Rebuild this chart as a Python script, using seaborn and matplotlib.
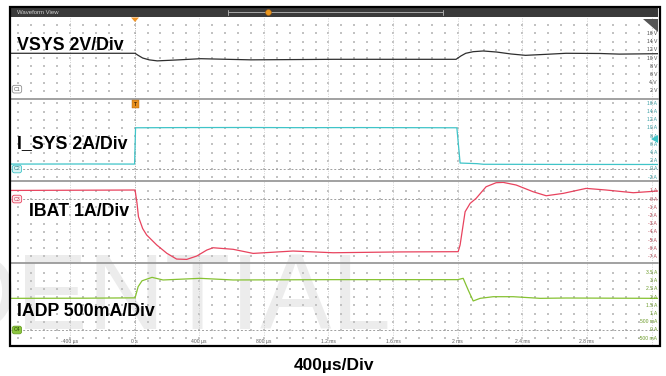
import numpy as np
import pandas as pd
import matplotlib
matplotlib.use("Agg")
import matplotlib.pyplot as plt
import matplotlib.transforms as mtransforms
from matplotlib.patches import Rectangle, Polygon
from matplotlib.lines import Line2D
import seaborn as sns

sns.set_theme(style="white")
plt.rcParams["font.family"] = ["Liberation Sans", "DejaVu Sans"]

# ---------------- captured waveforms (time in ms) ----------------
vsys_t = [-0.765, 0.003, 0.02, 0.05, 0.09, 0.14, 0.25, 0.41, 0.55, 0.72, 1.0, 1.23, 1.6, 1.99,
          2.02, 2.05, 2.096, 2.158, 2.24, 2.33, 2.42, 2.55, 2.67, 2.88, 3.0, 3.24]
vsys_v = [11.15, 11.15, 10.7, 10.0, 9.55, 9.3, 9.5, 9.83, 9.7, 9.55, 9.62, 9.68, 9.68, 9.68,
          10.5, 11.15, 11.54, 11.71, 11.46, 10.98, 10.65, 10.9, 11.15, 11.1, 10.95, 11.05]

isys_t = [-0.765, -0.3, 0.0, 0.006, 0.3, 0.7, 1.0, 1.4, 1.8, 1.995, 2.015, 2.12, 2.16, 2.6, 3.24]
isys_a = [1.2, 1.22, 1.2, 10.05, 10.1, 10.12, 10.08, 10.1, 10.07, 10.05, 1.45, 1.3, 1.15, 1.12, 1.1]

ibat_t = [-0.765, -0.3, 0.003, 0.015, 0.024, 0.05, 0.075, 0.137, 0.2, 0.26, 0.323, 0.385,
          0.447, 0.486, 0.61, 0.734, 0.981, 1.229, 1.644, 2.003, 2.015, 2.046, 2.077, 2.114,
          2.176, 2.238, 2.282, 2.362, 2.467, 2.548, 2.653, 2.795, 2.919, 3.087, 3.24]
ibat_a = [1.05, 1.08, 1.1, -0.5, -2.16, -3.6, -4.39, -5.6, -6.62, -7.32, -7.36, -6.95,
          -6.22, -5.94, -6.13, -6.63, -6.34, -6.55, -6.45, -6.42, -5.6, -1.55, -0.53, 0.08,
          1.5, 1.99, 2.03, 1.71, 0.89, 0.40, 0.69, 1.30, 1.10, 0.77, 0.98]

iadp_t = [-0.765, -0.3, 0.003, 0.022, 0.046, 0.108, 0.176, 0.406, 0.61, 1.229, 1.644,
          2.0, 2.034, 2.065, 2.096, 2.139, 2.22, 2.344, 2.511, 2.672, 3.24]
iadp_a = [1.93, 1.94, 1.96, 2.64, 3.0, 3.21, 3.05, 3.15, 3.05, 3.07, 3.07,
          3.07, 3.15, 2.44, 1.77, 1.93, 2.03, 2.03, 1.93, 1.95, 1.93]

# right-edge vertical scale readouts
vsys_scale = [16, 14, 12, 10, 8, 6, 4, 2]
vsys_scale_labels = ["16 V", "14 V", "12 V", "10 V", "8 V", "6 V", "4 V", "2 V"]
isys_scale = [16, 14, 12, 10, 8, 6, 4, 2, 0, -2]
isys_scale_labels = ["16 A", "14 A", "12 A", "10 A", "8 A", "6 A", "4 A", "2 A", "0 A", "-2 A"]
ibat_scale = [1, 0, -1, -2, -3, -4, -5, -6, -7]
ibat_scale_labels = ["1 A", "0 A", "-1 A", "-2 A", "-3 A", "-4 A", "-5 A", "-6 A", "-7 A"]
iadp_scale = [3.5, 3, 2.5, 2, 1.5, 1, 0.5, 0, -0.5]
iadp_scale_labels = ["3.5 A", "3 A", "2.5 A", "2 A", "1.5 A", "1 A", "500 mA", "0 A", "-500 mA"]

time_ticks = [-0.4, 0.0, 0.4, 0.8, 1.2, 1.6, 2.0, 2.4, 2.8]
time_tick_labels = ["-400 µs", "0 s", "400 µs", "800 µs", "1.2 ms", "1.6 ms", "2 ms", "2.4 ms", "2.8 ms"]

channel_titles = ["VSYS 2V/Div", "I_SYS 2A/Div", "IBAT 1A/Div", "IADP 500mA/Div"]
channel_tags = ["C1", "C2", "C3", "C4"]
timebase_label = "400µs/Div"

# ---------------- figure in screen pixels ----------------
W, H = 666, 376
fig = plt.figure(figsize=(W / 100, H / 100), dpi=100)
fig.patch.set_facecolor("white")
px = mtransforms.Affine2D().scale(1 / W, -1 / H).translate(0, 1) + fig.transFigure

X0, X1 = 11, 658
XLIM = (-0.765, 3.24)

channels = [
    dict(t=vsys_t, v=vsys_v, rows=(17, 99), ylim=(0, 20), color="#2e2e2e",
         lab="#4a4a4a", scale=vsys_scale, scale_labels=vsys_scale_labels,
         dots=np.arange(2, 19, 2), base=None, tag_y=2.4,
         tag_fc="white", tag_ec="#909090", tag_tc="#606060",
         title_xy=(17, 50), title=channel_titles[0], tag=channel_tags[0]),
    dict(t=isys_t, v=isys_a, rows=(99, 181), ylim=(-2.93, 17.07), color="#3fc4c8",
         lab="#3a9ea4", scale=isys_scale, scale_labels=isys_scale_labels,
         dots=np.arange(-2, 17, 2), base=0.0, tag_y=0.0,
         tag_fc="#d8f4f4", tag_ec="#3fc4c8", tag_tc="#2a7a80",
         title_xy=(17, 148.3), title=channel_titles[1], tag=channel_tags[1]),
    dict(t=ibat_t, v=ibat_a, rows=(181, 263), ylim=(-7.8, 2.2), color="#e8435e",
         lab="#b84a58", scale=ibat_scale, scale_labels=ibat_scale_labels,
         dots=np.arange(-7, 2, 1), base=0.0, tag_y=0.0,
         tag_fc="#fde8ec", tag_ec="#e8435e", tag_tc="#c03048",
         title_xy=(29, 215.7), title=channel_titles[2], tag=channel_tags[2]),
    dict(t=iadp_t, v=iadp_a, rows=(263, 345), ylim=(-0.915, 4.085), color="#86c232",
         lab="#6b9a28", scale=iadp_scale, scale_labels=iadp_scale_labels,
         dots=np.arange(-0.5, 3.6, 0.5), base=0.0, tag_y=0.0,
         tag_fc="#8cc63f", tag_ec="#6aa024", tag_tc="#2c4a08",
         title_xy=(17, 316), title=channel_titles[3], tag=channel_tags[3]),
]

minor_t = np.arange(-0.72, 3.24, 0.08)
major_t = np.arange(-0.4, 3.21, 0.4)

axes = []
for ch in channels:
    top, bot = ch["rows"]
    ax = fig.add_axes([X0 / W, 1 - bot / H, (X1 - X0) / W, (bot - top) / H])
    ax.set_facecolor("none")
    ax.set_zorder(2)
    ax.set_xlim(*XLIM)
    ax.set_ylim(*ch["ylim"])
    ax.set_xticks([])
    ax.set_yticks([])
    for s in ax.spines.values():
        s.set_visible(False)

    # graticule: dotted majors and a lattice of minor dots
    gx, gy = np.meshgrid(minor_t, ch["dots"])
    ax.scatter(gx.ravel(), gy.ravel(), s=0.9, marker="s", color="#c2c2c2", lw=0, zorder=1)
    for t in major_t:
        ax.axvline(t, color="#a8a8a8" if abs(t) < 1e-9 else "#cfcfcf",
                   lw=0.7, ls=(0, (1, 1.5)), zorder=1)
    if ch["base"] is not None:
        ax.axhline(ch["base"], color="#a0a0a0", lw=0.7, ls=(0, (2, 2)), zorder=1)

    df = pd.DataFrame({"t": ch["t"], "v": ch["v"]})
    sns.lineplot(data=df, x="t", y="v", ax=ax, color=ch["color"], linewidth=0.9,
                 sort=False, estimator=None, zorder=3)
    ax.set_xlabel("")
    ax.set_ylabel("")

    # vertical scale readouts
    tr = mtransforms.blended_transform_factory(ax.transAxes, ax.transData)
    for val, lab in zip(ch["scale"], ch["scale_labels"]):
        ax.text(0.9985, val, lab, transform=tr, ha="right", va="center",
                fontsize=3.6, color=ch["lab"], zorder=4)

    # channel tag on the left edge
    ax.text(0.004, ch["tag_y"], ch["tag"], transform=tr, ha="left", va="center",
            fontsize=3.8, color=ch["tag_tc"], zorder=5,
            bbox=dict(boxstyle="round,pad=0.25,rounding_size=0.4", fc=ch["tag_fc"],
                      ec=ch["tag_ec"], lw=0.6))
    axes.append(ax)

# time axis readouts inside the bottom channel
for t, lab in zip(time_ticks, time_tick_labels):
    axes[-1].text(t, 0.04, lab, transform=mtransforms.blended_transform_factory(
        axes[-1].transData, axes[-1].transAxes), ha="center", va="center",
        fontsize=3.6, color="#5a5a5a", zorder=4)

# watermark behind the traces
fig.text(391, 329, "DENTIAL", transform=px, ha="right", va="baseline",
         fontsize=77, color="#c4c4c4", alpha=0.32, zorder=0.5,
         family=["Liberation Sans", "DejaVu Sans"])

# channel separators
for y in (99, 181, 263):
    fig.add_artist(Line2D([X0, X1], [y, y], transform=px, color="#9a9a9a", lw=1.3, zorder=4))

# title bar with scrubber
fig.add_artist(Rectangle((X0, 7), X1 - X0, 10, transform=px, fc="#3a3a3a", ec="none", zorder=5))
fig.text(17, 12.3, "Waveform View", transform=px, ha="left", va="center",
         fontsize=4.3, color="#d0d0d0", zorder=6)
fig.add_artist(Line2D([228, 443], [12, 12], transform=px, color="#a8a8a8", lw=0.7, zorder=6))
for xe in (228, 443):
    fig.add_artist(Line2D([xe, xe], [9.5, 14.5], transform=px, color="#a8a8a8", lw=0.7, zorder=6))
fig.add_artist(Line2D([268], [12], transform=px, marker="o", ms=4.2, mfc="#e8961e",
                      mec="#a86010", mew=0.4, lw=0, zorder=7))

# outer frame
fig.add_artist(Rectangle((10, 6.8), 650, 339.4, transform=px, fc="none", ec="black",
                         lw=1.6, zorder=7))

# trigger markers
fig.add_artist(Polygon([(131, 17.5), (139, 17.5), (135, 22)], closed=True, transform=px,
                       fc="#f0962a", ec="none", zorder=6))
fig.add_artist(Rectangle((131.5, 99.8), 7, 8.5, transform=px, fc="#e8901e", ec="#a86010",
                         lw=0.3, zorder=6))
fig.text(135, 104.3, "T", transform=px, ha="center", va="center", fontsize=3.6,
         color="#4a2800", zorder=7, weight="bold")

# right-edge indicators
fig.add_artist(Polygon([(643, 19), (658, 19), (658, 32)], closed=True, transform=px,
                       fc="#555555", ec="none", zorder=6))
fig.add_artist(Polygon([(651, 139), (658, 135), (658, 143)], closed=True, transform=px,
                       fc="#3fc4c8", ec="none", zorder=6))

# channel titles and timebase
for ch in channels:
    fig.text(ch["title_xy"][0], ch["title_xy"][1], ch["title"], transform=px,
             ha="left", va="baseline", fontsize=12.8, weight="bold", color="black", zorder=8)
fig.text(334, 370, timebase_label, transform=px, ha="center", va="baseline",
         fontsize=12.5, weight="bold", color="black", zorder=8)

fig.savefig("out.png", dpi=100, facecolor="white")
